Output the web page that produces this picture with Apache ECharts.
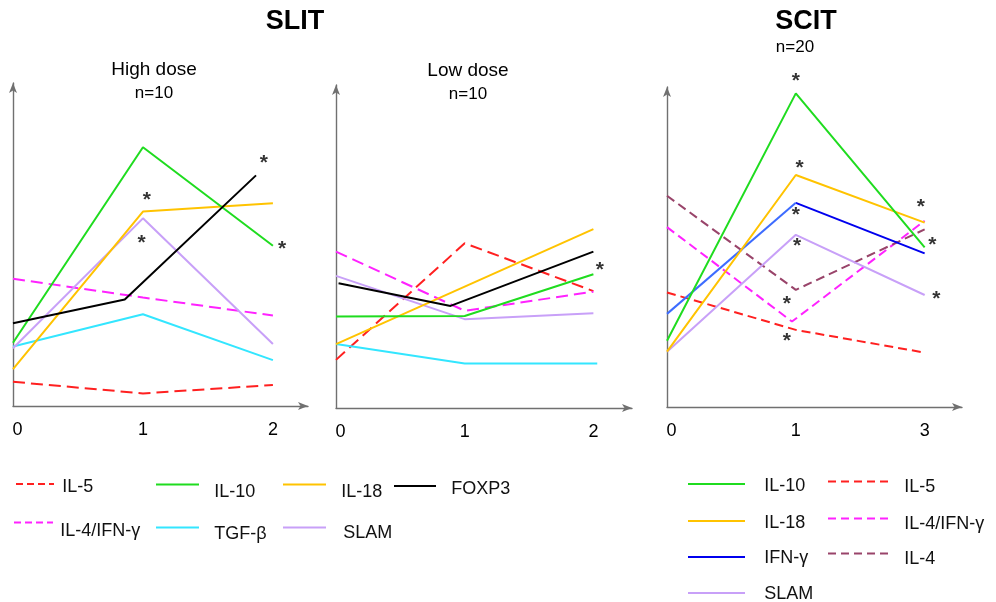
<!DOCTYPE html>
<html>
<head>
<meta charset="utf-8">
<script src="https://cdn.jsdelivr.net/npm/echarts@6/dist/echarts.min.js"></script>
<style>html,body{margin:0;padding:0;background:#fff;}#c{width:996px;height:602px;}</style>
</head>
<body>
<div id="c"></div>
<script>
// ---- tick labels ----
const xTicksSLIT = ['0', '1', '2'];
const xTicksSCIT = ['0', '1', '3'];

// ---- SLIT high dose (n=10): [time position, relative level] ----
const hdIL5 = [[0, 7.5], [1, 3.9], [2, 6.5]];
const hdIL4IFNg = [[0, 39.4], [1, 33.6], [2, 28.0]];
const hdIL10 = [[0, 19.6], [1, 80.1], [2, 49.6]];
const hdTGFb = [[0, 18.4], [1, 28.4], [2, 14.2]];
const hdIL18 = [[0, 11.4], [1, 60.2], [2, 62.8]];
const hdSLAM = [[0, 17.9], [1, 58.1], [2, 19.2]];
const hdFOXP3 = [[0, 25.6], [0.86, 33.0], [1.87, 71.4]];
const hdStars = [[1.03, 64.3], [0.99, 50.9], [1.93, 75.9], [2.07, 49.3]];

// ---- SLIT low dose (n=10) ----
const ldIL5 = [[0, 14.9], [1, 51.0], [2, 36.2]];
const ldIL4IFNg = [[0, 48.4], [1, 30.1], [2, 36.0]];
const ldIL10 = [[0, 28.3], [1, 28.5], [2, 41.4]];
const ldTGFb = [[0, 19.8], [1, 13.8], [2.03, 13.8]];
const ldIL18 = [[0, 19.8], [2, 55.4]];
const ldSLAM = [[0, 40.9], [1, 27.5], [2, 29.3]];
const ldFOXP3 = [[0.02, 38.6], [0.89, 31.6], [2, 48.4]];
const ldStars = [[2.05, 43.2]];

// ---- SCIT (n=20) ----
const scIL10 = [[0, 20.7], [1, 98.0], [2, 49.9]];
const scIL18 = [[0, 17.3], [1, 72.5], [2, 57.6]];
const scIFNg = [[0, 29.1], [1, 63.8], [2, 48.0]];
const scSLAM = [[0, 17.3], [1, 53.8], [2, 35.0]];
const scIL5 = [[0, 35.8], [1, 24.1], [2, 17.0]];
const scIL4IFNg = [[0, 56.2], [0.97, 26.7], [2, 58.2]];
const scIL4 = [[0, 66.0], [1, 36.6], [2, 55.5]];
const scStars = [[1.0, 102.4], [1.03, 75.4], [1.0, 60.7], [1.01, 50.8], [0.93, 32.7], [0.93, 21.2], [1.97, 63.1], [2.06, 51.2], [2.09, 34.3]];

// ---- styles ----
const FONT = '"Liberation Sans", Arial, sans-serif';
const C = {
  green: '#1fdc1f', orange: '#ffc300', purple: '#c8a0f8', cyan: '#33e6ff',
  magenta: '#ff22ff', red: '#ff2020', black: '#000000', blueA: '#3d6cff',
  blueB: '#0000ee', maroon: '#99446a'
};
const AXIS_COLOR = '#707070';

function line(name, data, gi, color, dash) {
  return {
    type: 'line', name: name, data: data, xAxisIndex: gi, yAxisIndex: gi,
    symbol: 'none', clip: false, silent: true, animation: false,
    lineStyle: { color: color, width: 2, type: dash || 'solid' },
    itemStyle: { color: color }, z: 3
  };
}
function stars(data, gi) {
  return {
    type: 'scatter', data: data, xAxisIndex: gi, yAxisIndex: gi,
    symbolSize: 0, clip: false, silent: true, animation: false,
    label: { show: true, position: 'inside', formatter: '*', color: '#000',
      fontFamily: FONT, fontSize: 21, fontWeight: 'bold', offset: [0, 2] }, z: 4
  };
}
function xAxis(gi, max, ticks) {
  return {
    type: 'value', gridIndex: gi, min: 0, max: max, interval: 1,
    axisLine: { show: true, symbol: ['none', 'arrow'], symbolSize: [6, 10], lineStyle: { color: AXIS_COLOR, width: 1.4 } },
    axisTick: { show: false }, splitLine: { show: false },
    axisLabel: { show: true, margin: 15, color: '#000', fontFamily: FONT, fontSize: 18,
      showMaxLabel: false,
      formatter: function (v) {
        if (!Number.isInteger(v) || ticks[v] === undefined) return '';
        return v === 0 ? '{z|' + ticks[v] + '}' : ticks[v];
      },
      rich: { z: { fontFamily: FONT, fontSize: 18, color: '#000', padding: [0, 0, 0, 9] } } }
  };
}
function yAxis(gi) {
  return {
    type: 'value', gridIndex: gi, min: 0, max: 100,
    axisLine: { show: true, symbol: ['none', 'arrow'], symbolSize: [6, 10], lineStyle: { color: AXIS_COLOR, width: 1.4 } },
    axisTick: { show: false }, splitLine: { show: false }, axisLabel: { show: false }
  };
}
const DASH1 = [12, 6];
const DASH3 = [9, 5];

const series = [
  // panel 0 high dose
  line('IL-5', hdIL5, 0, C.red, DASH1),
  line('IL-4/IFN-γ', hdIL4IFNg, 0, C.magenta, DASH1),
  line('TGF-β', hdTGFb, 0, C.cyan),
  line('SLAM', hdSLAM, 0, C.purple),
  line('IL-18', hdIL18, 0, C.orange),
  line('IL-10', hdIL10, 0, C.green),
  line('FOXP3', hdFOXP3, 0, C.black),
  stars(hdStars, 0),
  // panel 1 low dose
  line('IL-5', ldIL5, 1, C.red, DASH1),
  line('IL-4/IFN-γ', ldIL4IFNg, 1, C.magenta, DASH1),
  line('TGF-β', ldTGFb, 1, C.cyan),
  line('SLAM', ldSLAM, 1, C.purple),
  line('IL-18', ldIL18, 1, C.orange),
  line('IL-10', ldIL10, 1, C.green),
  line('FOXP3', ldFOXP3, 1, C.black),
  stars(ldStars, 1),
  // panel 2 SCIT
  line('IL-5', scIL5, 2, C.red, DASH3),
  line('IL-4/IFN-γ', scIL4IFNg, 2, C.magenta, DASH3),
  line('IL-4', scIL4, 2, C.maroon, DASH3),
  line('SLAM', scSLAM, 2, C.purple),
  line('IFN-γ', scIFNg.slice(1), 2, C.blueB),
  line('IFN-γ', scIFNg.slice(0, 2), 2, C.blueA),
  line('IL-18', scIL18, 2, C.orange),
  line('IL-10', scIL10, 2, C.green),
  stars(scStars, 2)
];

// legend helper: line start x, line y, line width, text start x, text center y
function leg(name, x0, ly, w, tx, ty, extra) {
  const d = ty - ly;
  const ad = Math.abs(d);
  const gapPad = tx - (x0 + w) - 5;
  const H = 20 + 2 * ad;
  const top = ly - 8 + Math.min(ad, 3);
  const item = Object.assign({ name: name }, extra || {});
  return {
    data: [item], left: x0, top: top, orient: 'horizontal', padding: 0,
    itemWidth: w, itemHeight: 14, selectedMode: false,
    itemStyle: { opacity: 0 },
    formatter: function (n) { return '{s| }{t|' + n + '}'; },
    textStyle: { fontFamily: FONT, fontSize: 18, color: '#111', padding: [0, 0, 0, gapPad],
      rich: {
        s: { fontSize: 1, lineHeight: H },
        t: { fontFamily: FONT, fontSize: 18, color: '#111', lineHeight: 20,
          verticalAlign: d >= 0 ? 'bottom' : 'top' }
      } }
  };
}
const slDash = { lineStyle: { type: [7, 4] } };
const scDash = { lineStyle: { type: [8, 5] } };
const legends = [
  leg('IL-5', 15, 484, 38, 61, 486, slDash),
  leg('IL-10', 155, 484, 43, 213, 490),
  leg('IL-18', 282, 484, 43, 340, 490),
  leg('FOXP3', 393, 486, 42, 450, 488),
  leg('IL-4/IFN-γ', 13, 522, 39, 59, 529, slDash),
  leg('TGF-β', 155, 527, 43, 213, 532),
  leg('SLAM', 282, 527, 43, 342, 531),
  leg('IL-10', 687, 484, 57, 763, 485),
  leg('IL-5', 827, 481, 61, 903, 485, scDash),
  leg('IL-18', 687, 521, 57, 763, 522),
  leg('IL-4/IFN-γ', 827, 518, 61, 903, 522, scDash),
  leg('IFN-γ', 687, 557, 57, 763, 557),
  leg('IL-4', 827, 553, 61, 903, 557, scDash),
  leg('SLAM', 687, 593, 57, 763, 593)
];

function txt(s, x, y, size, bold) {
  return { type: 'text', x: x, y: y, silent: true,
    style: { text: s, fill: '#000', font: (bold ? 'bold ' : '') + size + 'px ' + FONT,
      textAlign: 'center', textVerticalAlign: 'middle' } };
}

const option = {
  backgroundColor: '#fff',
  animation: false,
  grid: [
    { left: 13, top: 83, width: 295, height: 323 },
    { left: 336, top: 85, width: 296, height: 323 },
    { left: 667, top: 87, width: 295, height: 320 }
  ],
  xAxis: [xAxis(0, 2.27, xTicksSLIT), xAxis(1, 2.3, xTicksSLIT), xAxis(2, 2.29, xTicksSCIT)],
  yAxis: [yAxis(0), yAxis(1), yAxis(2)],
  legend: legends,
  graphic: [
    txt('SLIT', 295, 22, 27, true),
    txt('SCIT', 806, 22, 27, true),
    txt('n=20', 795, 47, 17, false),
    txt('High dose', 154, 70, 19, false),
    txt('n=10', 154, 93, 17, false),
    txt('Low dose', 468, 71, 19, false),
    txt('n=10', 468, 94, 17, false)
  ],
  series: series
};
const chart = echarts.init(document.getElementById('c'), null, { renderer: 'canvas' });
chart.setOption(option);
</script>
</body>
</html>
